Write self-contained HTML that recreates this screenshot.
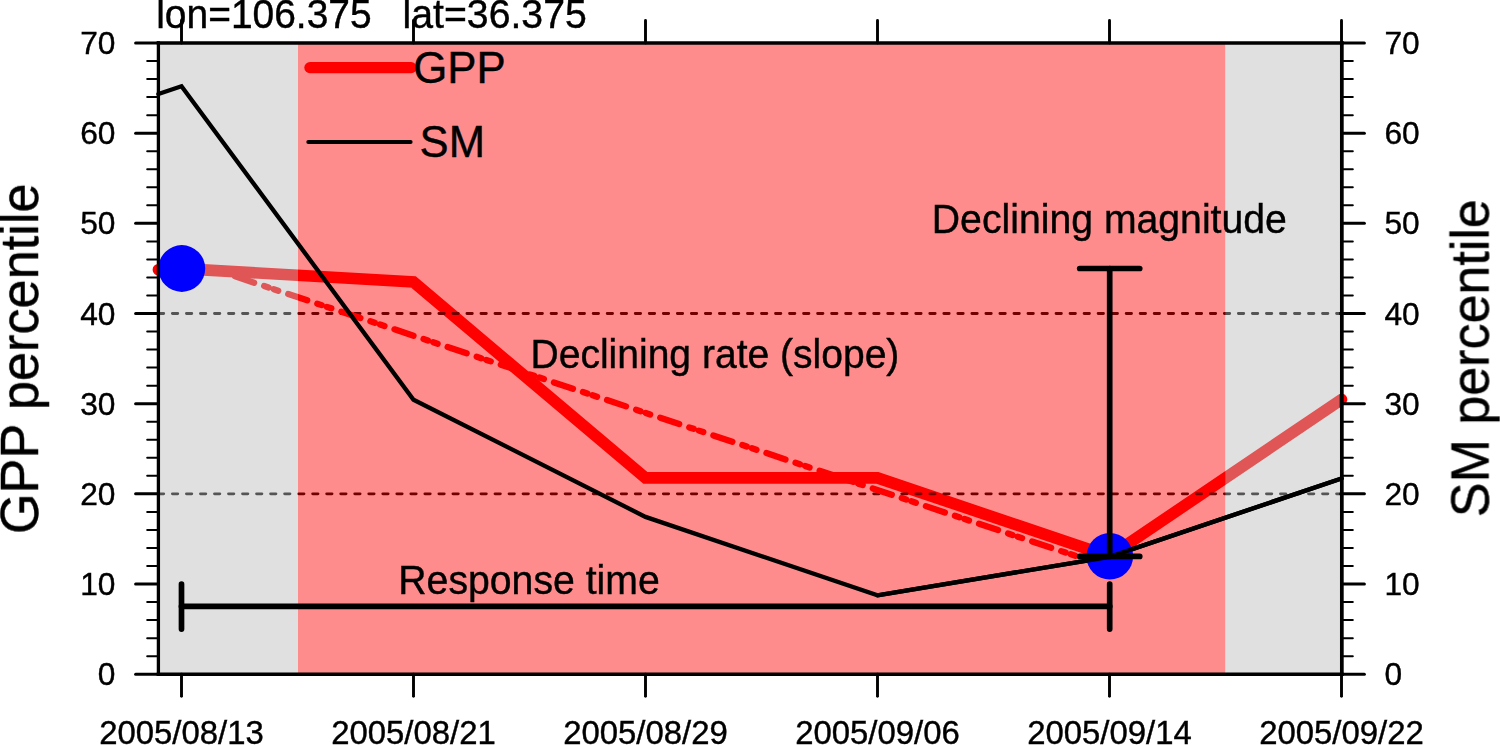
<!DOCTYPE html><html><head><meta charset="utf-8"><style>
html,body{margin:0;padding:0;background:#fff;width:1500px;height:745px;overflow:hidden}
svg{display:block}text{font-family:"Liberation Sans",sans-serif;fill:#000;stroke:#000;stroke-width:0.4px;-webkit-font-smoothing:antialiased}
</style></head><body>
<svg width="1500" height="745" viewBox="0 0 1500 745">
<rect x="0" y="0" width="1500" height="745" fill="#fff"/>
<polyline points="158.40,269.70 181.50,268.60 413.50,282.00 645.50,477.90 877.50,477.90 1109.50,556.30 1341.50,399.50" fill="none" stroke="#f00" stroke-width="11.6" stroke-linecap="round" stroke-linejoin="miter"/>
<line x1="158.40" y1="313.51" x2="1341.60" y2="313.51" stroke="#000" stroke-width="2.9" stroke-dasharray="5.3 8.726" stroke-linecap="round"/>
<line x1="158.40" y1="493.86" x2="1341.60" y2="493.86" stroke="#000" stroke-width="2.9" stroke-dasharray="5.3 8.726" stroke-linecap="round"/>
<line x1="181.50" y1="258.5" x2="1109.50" y2="567.2" stroke="#f00" stroke-width="6.3" stroke-linecap="round" stroke-dasharray="20 10.6 4.6 5.6 4.6 10.6" stroke-dashoffset="55.5"/>
<rect x="158.40" y="43.00" width="139.60" height="631.20" fill="rgb(187,187,187)" fill-opacity="0.455"/>
<rect x="298.00" y="43.00" width="927.30" height="631.20" fill="#f00" fill-opacity="0.450"/>
<rect x="1225.30" y="43.00" width="114.10" height="631.20" fill="rgb(187,187,187)" fill-opacity="0.455"/>
<polyline points="158.40,94.00 181.50,86.30 413.50,399.70 645.50,516.90 877.50,595.30 1109.50,556.80 1341.50,478.50" fill="none" stroke="#000" stroke-width="4.3" stroke-linecap="round" stroke-linejoin="miter"/>
<circle cx="181.8" cy="268.5" r="23.4" fill="#00f"/>
<circle cx="1109.8" cy="556.3" r="23.3" fill="#00f"/>
<polyline points="877.50,595.30 1109.50,556.80 1341.50,478.50" fill="none" stroke="#000" stroke-width="4.3" stroke-linecap="round" stroke-linejoin="miter"/>
<g stroke="#000" stroke-width="5.70" stroke-linecap="round" fill="none">
<line x1="1109.70" y1="268.5" x2="1109.70" y2="556.4"/>
<line x1="1079.70" y1="268.5" x2="1139.70" y2="268.5"/>
<line x1="1079.70" y1="556.4" x2="1139.70" y2="556.4"/>
<line x1="181.5" y1="606.4" x2="1109.70" y2="606.4"/>
<line x1="181.5" y1="584.03" x2="181.5" y2="629.11"/>
<line x1="1109.70" y1="584.03" x2="1109.70" y2="629.11"/>
</g>
<g stroke="#000" fill="none" stroke-linecap="butt">
<path d="M156.75,43.00 H1343.50" stroke-width="3.3"/>
<path d="M156.75,674.20 H1343.50" stroke-width="3.5"/>
<path d="M158.40,41.35 V675.95" stroke-width="3.3"/>
<path d="M1341.80,41.35 V675.95" stroke-width="3.8"/>
<line x1="181.50" y1="674.20" x2="181.50" y2="696.30" stroke-width="2.9" stroke-linecap="round"/>
<line x1="181.50" y1="43.00" x2="181.50" y2="20.40" stroke-width="2.9" stroke-linecap="round"/>
<line x1="413.50" y1="674.20" x2="413.50" y2="696.30" stroke-width="2.9" stroke-linecap="round"/>
<line x1="413.50" y1="43.00" x2="413.50" y2="20.40" stroke-width="2.9" stroke-linecap="round"/>
<line x1="645.50" y1="674.20" x2="645.50" y2="696.30" stroke-width="2.9" stroke-linecap="round"/>
<line x1="645.50" y1="43.00" x2="645.50" y2="20.40" stroke-width="2.9" stroke-linecap="round"/>
<line x1="877.50" y1="674.20" x2="877.50" y2="696.30" stroke-width="2.9" stroke-linecap="round"/>
<line x1="877.50" y1="43.00" x2="877.50" y2="20.40" stroke-width="2.9" stroke-linecap="round"/>
<line x1="1109.50" y1="674.20" x2="1109.50" y2="696.30" stroke-width="2.9" stroke-linecap="round"/>
<line x1="1109.50" y1="43.00" x2="1109.50" y2="20.40" stroke-width="2.9" stroke-linecap="round"/>
<line x1="1341.50" y1="674.20" x2="1341.50" y2="696.30" stroke-width="2.9" stroke-linecap="round"/>
<line x1="1341.50" y1="43.00" x2="1341.50" y2="20.40" stroke-width="2.9" stroke-linecap="round"/>
<line x1="135.60" y1="674.20" x2="158.40" y2="674.20" stroke-width="3.0" stroke-linecap="round"/>
<line x1="1341.60" y1="674.20" x2="1364.40" y2="674.20" stroke-width="3.0" stroke-linecap="round"/>
<line x1="147.20" y1="656.17" x2="158.40" y2="656.17" stroke-width="2" stroke-linecap="round"/>
<line x1="1341.60" y1="656.17" x2="1352.80" y2="656.17" stroke-width="2" stroke-linecap="round"/>
<line x1="147.20" y1="638.13" x2="158.40" y2="638.13" stroke-width="2" stroke-linecap="round"/>
<line x1="1341.60" y1="638.13" x2="1352.80" y2="638.13" stroke-width="2" stroke-linecap="round"/>
<line x1="147.20" y1="620.10" x2="158.40" y2="620.10" stroke-width="2" stroke-linecap="round"/>
<line x1="1341.60" y1="620.10" x2="1352.80" y2="620.10" stroke-width="2" stroke-linecap="round"/>
<line x1="147.20" y1="602.06" x2="158.40" y2="602.06" stroke-width="2" stroke-linecap="round"/>
<line x1="1341.60" y1="602.06" x2="1352.80" y2="602.06" stroke-width="2" stroke-linecap="round"/>
<line x1="135.60" y1="584.03" x2="158.40" y2="584.03" stroke-width="3.0" stroke-linecap="round"/>
<line x1="1341.60" y1="584.03" x2="1364.40" y2="584.03" stroke-width="3.0" stroke-linecap="round"/>
<line x1="147.20" y1="565.99" x2="158.40" y2="565.99" stroke-width="2" stroke-linecap="round"/>
<line x1="1341.60" y1="565.99" x2="1352.80" y2="565.99" stroke-width="2" stroke-linecap="round"/>
<line x1="147.20" y1="547.96" x2="158.40" y2="547.96" stroke-width="2" stroke-linecap="round"/>
<line x1="1341.60" y1="547.96" x2="1352.80" y2="547.96" stroke-width="2" stroke-linecap="round"/>
<line x1="147.20" y1="529.93" x2="158.40" y2="529.93" stroke-width="2" stroke-linecap="round"/>
<line x1="1341.60" y1="529.93" x2="1352.80" y2="529.93" stroke-width="2" stroke-linecap="round"/>
<line x1="147.20" y1="511.89" x2="158.40" y2="511.89" stroke-width="2" stroke-linecap="round"/>
<line x1="1341.60" y1="511.89" x2="1352.80" y2="511.89" stroke-width="2" stroke-linecap="round"/>
<line x1="135.60" y1="493.86" x2="158.40" y2="493.86" stroke-width="3.0" stroke-linecap="round"/>
<line x1="1341.60" y1="493.86" x2="1364.40" y2="493.86" stroke-width="3.0" stroke-linecap="round"/>
<line x1="147.20" y1="475.82" x2="158.40" y2="475.82" stroke-width="2" stroke-linecap="round"/>
<line x1="1341.60" y1="475.82" x2="1352.80" y2="475.82" stroke-width="2" stroke-linecap="round"/>
<line x1="147.20" y1="457.79" x2="158.40" y2="457.79" stroke-width="2" stroke-linecap="round"/>
<line x1="1341.60" y1="457.79" x2="1352.80" y2="457.79" stroke-width="2" stroke-linecap="round"/>
<line x1="147.20" y1="439.75" x2="158.40" y2="439.75" stroke-width="2" stroke-linecap="round"/>
<line x1="1341.60" y1="439.75" x2="1352.80" y2="439.75" stroke-width="2" stroke-linecap="round"/>
<line x1="147.20" y1="421.72" x2="158.40" y2="421.72" stroke-width="2" stroke-linecap="round"/>
<line x1="1341.60" y1="421.72" x2="1352.80" y2="421.72" stroke-width="2" stroke-linecap="round"/>
<line x1="135.60" y1="403.69" x2="158.40" y2="403.69" stroke-width="3.0" stroke-linecap="round"/>
<line x1="1341.60" y1="403.69" x2="1364.40" y2="403.69" stroke-width="3.0" stroke-linecap="round"/>
<line x1="147.20" y1="385.65" x2="158.40" y2="385.65" stroke-width="2" stroke-linecap="round"/>
<line x1="1341.60" y1="385.65" x2="1352.80" y2="385.65" stroke-width="2" stroke-linecap="round"/>
<line x1="147.20" y1="367.62" x2="158.40" y2="367.62" stroke-width="2" stroke-linecap="round"/>
<line x1="1341.60" y1="367.62" x2="1352.80" y2="367.62" stroke-width="2" stroke-linecap="round"/>
<line x1="147.20" y1="349.58" x2="158.40" y2="349.58" stroke-width="2" stroke-linecap="round"/>
<line x1="1341.60" y1="349.58" x2="1352.80" y2="349.58" stroke-width="2" stroke-linecap="round"/>
<line x1="147.20" y1="331.55" x2="158.40" y2="331.55" stroke-width="2" stroke-linecap="round"/>
<line x1="1341.60" y1="331.55" x2="1352.80" y2="331.55" stroke-width="2" stroke-linecap="round"/>
<line x1="135.60" y1="313.51" x2="158.40" y2="313.51" stroke-width="3.0" stroke-linecap="round"/>
<line x1="1341.60" y1="313.51" x2="1364.40" y2="313.51" stroke-width="3.0" stroke-linecap="round"/>
<line x1="147.20" y1="295.48" x2="158.40" y2="295.48" stroke-width="2" stroke-linecap="round"/>
<line x1="1341.60" y1="295.48" x2="1352.80" y2="295.48" stroke-width="2" stroke-linecap="round"/>
<line x1="147.20" y1="277.45" x2="158.40" y2="277.45" stroke-width="2" stroke-linecap="round"/>
<line x1="1341.60" y1="277.45" x2="1352.80" y2="277.45" stroke-width="2" stroke-linecap="round"/>
<line x1="147.20" y1="259.41" x2="158.40" y2="259.41" stroke-width="2" stroke-linecap="round"/>
<line x1="1341.60" y1="259.41" x2="1352.80" y2="259.41" stroke-width="2" stroke-linecap="round"/>
<line x1="147.20" y1="241.38" x2="158.40" y2="241.38" stroke-width="2" stroke-linecap="round"/>
<line x1="1341.60" y1="241.38" x2="1352.80" y2="241.38" stroke-width="2" stroke-linecap="round"/>
<line x1="135.60" y1="223.34" x2="158.40" y2="223.34" stroke-width="3.0" stroke-linecap="round"/>
<line x1="1341.60" y1="223.34" x2="1364.40" y2="223.34" stroke-width="3.0" stroke-linecap="round"/>
<line x1="147.20" y1="205.31" x2="158.40" y2="205.31" stroke-width="2" stroke-linecap="round"/>
<line x1="1341.60" y1="205.31" x2="1352.80" y2="205.31" stroke-width="2" stroke-linecap="round"/>
<line x1="147.20" y1="187.27" x2="158.40" y2="187.27" stroke-width="2" stroke-linecap="round"/>
<line x1="1341.60" y1="187.27" x2="1352.80" y2="187.27" stroke-width="2" stroke-linecap="round"/>
<line x1="147.20" y1="169.24" x2="158.40" y2="169.24" stroke-width="2" stroke-linecap="round"/>
<line x1="1341.60" y1="169.24" x2="1352.80" y2="169.24" stroke-width="2" stroke-linecap="round"/>
<line x1="147.20" y1="151.21" x2="158.40" y2="151.21" stroke-width="2" stroke-linecap="round"/>
<line x1="1341.60" y1="151.21" x2="1352.80" y2="151.21" stroke-width="2" stroke-linecap="round"/>
<line x1="135.60" y1="133.17" x2="158.40" y2="133.17" stroke-width="3.0" stroke-linecap="round"/>
<line x1="1341.60" y1="133.17" x2="1364.40" y2="133.17" stroke-width="3.0" stroke-linecap="round"/>
<line x1="147.20" y1="115.14" x2="158.40" y2="115.14" stroke-width="2" stroke-linecap="round"/>
<line x1="1341.60" y1="115.14" x2="1352.80" y2="115.14" stroke-width="2" stroke-linecap="round"/>
<line x1="147.20" y1="97.10" x2="158.40" y2="97.10" stroke-width="2" stroke-linecap="round"/>
<line x1="1341.60" y1="97.10" x2="1352.80" y2="97.10" stroke-width="2" stroke-linecap="round"/>
<line x1="147.20" y1="79.07" x2="158.40" y2="79.07" stroke-width="2" stroke-linecap="round"/>
<line x1="1341.60" y1="79.07" x2="1352.80" y2="79.07" stroke-width="2" stroke-linecap="round"/>
<line x1="147.20" y1="61.03" x2="158.40" y2="61.03" stroke-width="2" stroke-linecap="round"/>
<line x1="1341.60" y1="61.03" x2="1352.80" y2="61.03" stroke-width="2" stroke-linecap="round"/>
<line x1="135.60" y1="43.00" x2="158.40" y2="43.00" stroke-width="3.0" stroke-linecap="round"/>
<line x1="1341.60" y1="43.00" x2="1364.40" y2="43.00" stroke-width="3.0" stroke-linecap="round"/>
</g>
<g style="will-change:transform">
<text transform="translate(115.40,685.30)" font-size="31.70" text-anchor="end">0</text>
<text transform="translate(1384.40,685.30)" font-size="31.70" text-anchor="start">0</text>
<text transform="translate(115.40,595.13)" font-size="31.70" text-anchor="end">10</text>
<text transform="translate(1384.40,595.13)" font-size="31.70" text-anchor="start">10</text>
<text transform="translate(115.40,504.96)" font-size="31.70" text-anchor="end">20</text>
<text transform="translate(1384.40,504.96)" font-size="31.70" text-anchor="start">20</text>
<text transform="translate(115.40,414.79)" font-size="31.70" text-anchor="end">30</text>
<text transform="translate(1384.40,414.79)" font-size="31.70" text-anchor="start">30</text>
<text transform="translate(115.40,324.61)" font-size="31.70" text-anchor="end">40</text>
<text transform="translate(1384.40,324.61)" font-size="31.70" text-anchor="start">40</text>
<text transform="translate(115.40,234.44)" font-size="31.70" text-anchor="end">50</text>
<text transform="translate(1384.40,234.44)" font-size="31.70" text-anchor="start">50</text>
<text transform="translate(115.40,144.27)" font-size="31.70" text-anchor="end">60</text>
<text transform="translate(1384.40,144.27)" font-size="31.70" text-anchor="start">60</text>
<text transform="translate(115.40,54.10)" font-size="31.70" text-anchor="end">70</text>
<text transform="translate(1384.40,54.10)" font-size="31.70" text-anchor="start">70</text>
<text transform="translate(181.50,743.60)" font-size="32.90" text-anchor="middle">2005/08/13</text>
<text transform="translate(413.50,743.60)" font-size="32.90" text-anchor="middle">2005/08/21</text>
<text transform="translate(645.50,743.60)" font-size="32.90" text-anchor="middle">2005/08/29</text>
<text transform="translate(877.50,743.60)" font-size="32.90" text-anchor="middle">2005/09/06</text>
<text transform="translate(1109.50,743.60)" font-size="32.90" text-anchor="middle">2005/09/14</text>
<text transform="translate(1341.50,743.60)" font-size="32.90" text-anchor="middle">2005/09/22</text>
<text transform="translate(156.20,28.00) scale(1,1.020)" font-size="38.95" text-anchor="start">lon=106.375</text>
<text transform="translate(402.60,28.00) scale(1,1.020)" font-size="39.20" text-anchor="start">lat=36.375</text>
<text transform="translate(38.40,358.80) rotate(-90) scale(1,1.030)" font-size="52.30" text-anchor="middle">GPP percentile</text>
<text transform="translate(1489.00,358.20) rotate(-90) scale(1,1.030)" font-size="52.00" text-anchor="middle">SM percentile</text>
<text transform="translate(931.80,233.30) scale(1,1.055)" font-size="39.20" text-anchor="start">Declining magnitude</text>
<text transform="translate(530.50,368.30) scale(1,1.055)" font-size="39.05" text-anchor="start">Declining rate (slope)</text>
<text transform="translate(398.30,594.20) scale(1,1.055)" font-size="39.20" text-anchor="start">Response time</text>
</g>
<line x1="309.9" y1="67.6" x2="411.2" y2="67.6" stroke="#f00" stroke-width="11.2" stroke-linecap="round"/>
<line x1="308.3" y1="142" x2="410.6" y2="142" stroke="#000" stroke-width="4" stroke-linecap="round"/>
<text transform="translate(413.20,82.80) scale(1,1.030)" font-size="43.80" text-anchor="start">GPP</text>
<text transform="translate(419.60,157.10) scale(1,1.030)" font-size="43.60" text-anchor="start">SM</text>
</svg></body></html>
